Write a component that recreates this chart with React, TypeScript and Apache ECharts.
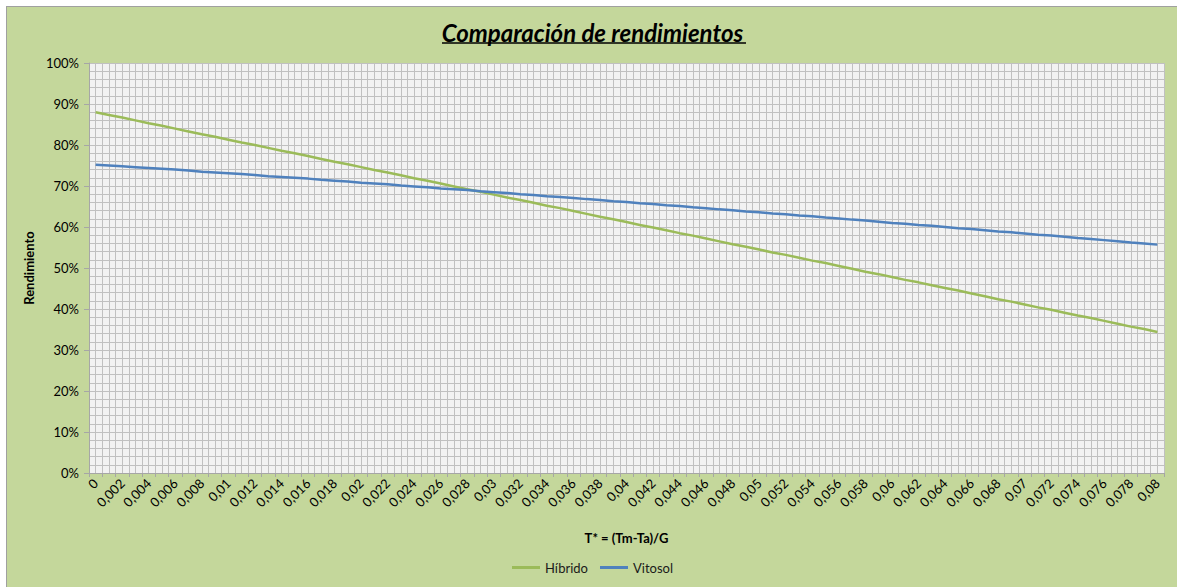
import React, { useEffect, useRef } from "react";
import * as echarts from "echarts";

const TITLE = "Comparación de rendimientos";
const X_NAME = "T* = (Tm-Ta)/G";
const Y_NAME = "Rendimiento";

const categories: string[] = [
  "0", "0,001", "0,002", "0,003", "0,004", "0,005", "0,006", "0,007", "0,008", "0,009",
  "0,01", "0,011", "0,012", "0,013", "0,014", "0,015", "0,016", "0,017", "0,018", "0,019",
  "0,02", "0,021", "0,022", "0,023", "0,024", "0,025", "0,026", "0,027", "0,028", "0,029",
  "0,03", "0,031", "0,032", "0,033", "0,034", "0,035", "0,036", "0,037", "0,038", "0,039",
  "0,04", "0,041", "0,042", "0,043", "0,044", "0,045", "0,046", "0,047", "0,048", "0,049",
  "0,05", "0,051", "0,052", "0,053", "0,054", "0,055", "0,056", "0,057", "0,058", "0,059",
  "0,06", "0,061", "0,062", "0,063", "0,064", "0,065", "0,066", "0,067", "0,068", "0,069",
  "0,07", "0,071", "0,072", "0,073", "0,074", "0,075", "0,076", "0,077", "0,078", "0,079",
  "0,08",
];

// Rendimiento (%)
const hibrido: number[] = [
  88.0, 87.3, 86.7, 86.0, 85.3, 84.7, 84.0, 83.3, 82.6, 82.0,
  81.3, 80.6, 80.0, 79.3, 78.6, 78.0, 77.3, 76.6, 75.9, 75.3,
  74.6, 73.9, 73.3, 72.6, 71.9, 71.3, 70.6, 69.9, 69.2, 68.6,
  67.9, 67.2, 66.6, 65.9, 65.2, 64.6, 63.9, 63.2, 62.5, 61.9,
  61.2, 60.5, 59.9, 59.2, 58.5, 57.9, 57.2, 56.5, 55.8, 55.2,
  54.5, 53.8, 53.2, 52.5, 51.8, 51.2, 50.5, 49.8, 49.1, 48.5,
  47.8, 47.1, 46.5, 45.8, 45.1, 44.5, 43.8, 43.1, 42.4, 41.8,
  41.1, 40.4, 39.8, 39.1, 38.4, 37.8, 37.1, 36.4, 35.7, 35.1,
  34.4,
];

const vitosol: number[] = [
  75.2, 75.0, 74.8, 74.6, 74.4, 74.2, 74.0, 73.8, 73.5, 73.3,
  73.1, 72.9, 72.7, 72.4, 72.2, 72.0, 71.8, 71.5, 71.3, 71.1,
  70.8, 70.6, 70.4, 70.1, 69.9, 69.7, 69.4, 69.2, 69.0, 68.7,
  68.5, 68.3, 68.0, 67.8, 67.5, 67.3, 67.1, 66.8, 66.6, 66.3,
  66.1, 65.8, 65.6, 65.3, 65.1, 64.8, 64.6, 64.3, 64.1, 63.8,
  63.6, 63.3, 63.1, 62.8, 62.6, 62.3, 62.1, 61.8, 61.6, 61.3,
  61.0, 60.8, 60.5, 60.3, 60.0, 59.7, 59.5, 59.2, 58.9, 58.7,
  58.4, 58.1, 57.9, 57.6, 57.3, 57.1, 56.8, 56.5, 56.2, 56.0,
  55.7,
];

const yTicks = { min: 0, max: 100, interval: 10 };

const FONT = "Lato, 'Liberation Sans', sans-serif";
const GRID_COLOR = "#c0c0c0";
const AXIS_COLOR = "#a6a6a6";

export default function App() {
  const ref = useRef<HTMLDivElement>(null);

  useEffect(() => {
    if (!ref.current) return;
    const chart = echarts.init(ref.current, undefined, { renderer: "svg" });
    const halfCats: string[] = new Array(categories.length * 2).fill("");
    chart.setOption({
      animation: false,
      backgroundColor: "#c4d79b",
      textStyle: { fontFamily: FONT },
      title: {
        text: TITLE,
        left: "center",
        top: 8,
        textStyle: {
          fontFamily: FONT,
          fontSize: 24,
          fontWeight: "bold",
          fontStyle: "italic",
          color: "#000",
        },
      },
      graphic: [
        {
          type: "line",
          shape: { x1: 435, y1: 36, x2: 739, y2: 36 },
          style: { stroke: "#000", lineWidth: 1.5 },
        },
      ],
      legend: {
        bottom: 9,
        left: "center",
        icon: "rect",
        itemWidth: 28,
        itemHeight: 3,
        itemGap: 12,
        textStyle: { fontFamily: FONT, fontSize: 13, color: "#1a1a1a" },
        data: ["Híbrido", "Vitosol"],
      },
      grid: {
        left: 82,
        top: 56,
        right: 14,
        bottom: 115,
        show: true,
        backgroundColor: "#f2f2f2",
        borderWidth: 0,
      },
      xAxis: [
        {
          type: "category",
          data: categories,
          boundaryGap: true,
          name: X_NAME,
          nameLocation: "middle",
          nameGap: 58,
          nameTextStyle: { fontFamily: FONT, fontSize: 13, fontWeight: "bold", color: "#000" },
          axisLine: { show: true, lineStyle: { color: AXIS_COLOR, width: 1 } },
          axisTick: { show: true, interval: 0, length: 4, lineStyle: { color: AXIS_COLOR } },
          axisLabel: {
            interval: 1,
            rotate: 45,
            fontFamily: FONT,
            fontSize: 13,
            color: "#000",
            margin: 8,
          },
          splitLine: { show: false },
          z: 3,
        },
        {
          type: "category",
          data: halfCats,
          boundaryGap: true,
          position: "bottom",
          axisLine: { show: false },
          axisTick: { show: false },
          axisLabel: { show: false },
          splitLine: { show: true, interval: 0, lineStyle: { color: GRID_COLOR, width: 1 } },
        },
      ],
      yAxis: {
        type: "value",
        min: yTicks.min,
        max: yTicks.max,
        interval: yTicks.interval,
        name: Y_NAME,
        nameLocation: "middle",
        nameGap: 49,
        nameTextStyle: { fontFamily: FONT, fontSize: 13, fontWeight: "bold", color: "#000" },
        axisLine: { show: true, lineStyle: { color: AXIS_COLOR, width: 1 } },
        axisTick: { show: true, length: 5, lineStyle: { color: AXIS_COLOR } },
        axisLabel: {
          formatter: "{value}%",
          fontFamily: FONT,
          fontSize: 13,
          color: "#000",
          margin: 10,
        },
        splitLine: { show: true, lineStyle: { color: GRID_COLOR, width: 1 } },
        minorTick: { show: false, splitNumber: 5 },
        minorSplitLine: { show: true, lineStyle: { color: GRID_COLOR, width: 1 } },
      },
      series: [
        {
          name: "Híbrido",
          type: "line",
          data: hibrido,
          xAxisIndex: 0,
          symbol: "none",
          lineStyle: { color: "#9bbb59", width: 2.5 },
          itemStyle: { color: "#9bbb59" },
          z: 4,
        },
        {
          name: "Vitosol",
          type: "line",
          data: vitosol,
          xAxisIndex: 0,
          symbol: "none",
          lineStyle: { color: "#4f81bd", width: 2.5 },
          itemStyle: { color: "#4f81bd" },
          z: 4,
        },
      ],
    });
    return () => chart.dispose();
  }, []);

  return (
    <div
      style={{
        position: "absolute",
        left: 6,
        top: 6,
        border: "1px solid #a0a0a0",
        borderRight: "none",
        borderBottom: "none",
        width: 1171,
        height: 581,
      }}
    >
      <div ref={ref} style={{ width: 1171, height: 581 }} />
    </div>
  );
}
